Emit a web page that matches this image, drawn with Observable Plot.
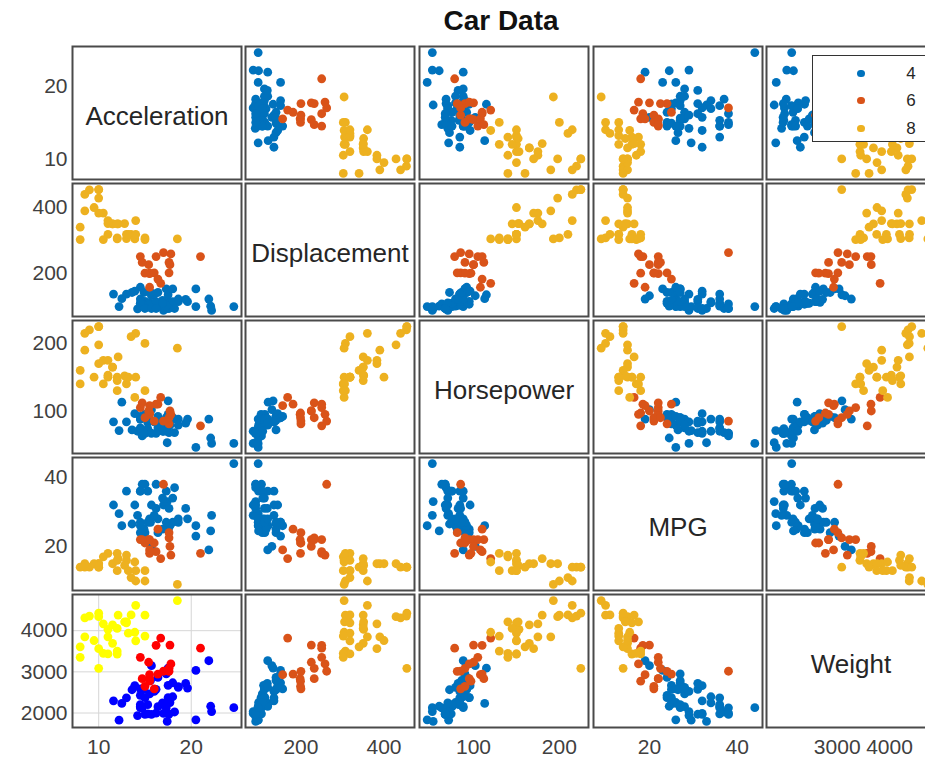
<!DOCTYPE html>
<html>
<head>
<meta charset="utf-8">
<script src="https://cdn.jsdelivr.net/npm/d3@7"></script>
<script src="https://cdn.jsdelivr.net/npm/@observablehq/plot@0.6"></script>
<style>
  html, body { margin: 0; padding: 0; background: #fff; overflow: hidden; }
  #fig { position: relative; width: 925px; height: 757px; overflow: hidden; background: #fff;
         font-family: "Liberation Sans", Arial, Helvetica, sans-serif; }
  #title { position: absolute; left: 351px; width: 300px; top: 7px; text-align: center;
           font-weight: bold; font-size: 28px; line-height: 28px; color: #111; }
  .panel { position: absolute; }
</style>
</head>
<body>
<div id="fig"><div id="title">Car Data</div></div>
<script>
// ---- Data (carsmall: model years 1970, 1976, 1982) ----
const cylinders = [
  8,8,8,8,8,8,8,8,8,8,4,8,8,8,8,8,8,8,8,8,4,6,6,6,4,4,4,4,4,4,6,8,8,8,8,
  4,4,4,4,4,8,8,8,8,6,6,6,6,4,4,4,4,6,6,6,6,4,4,4,4,4,8,4,6,6,8,8,8,8,
  4,4,4,4,4,4,4,4,4,4,4,4,4,4,4,4,4,4,4,6,6,4,6,4,4,4,4,4,4,4,4
];
const mpg = [
  18,15,18,16,17,15,14,14,14,15,NaN,NaN,NaN,NaN,NaN,15,14,NaN,15,14,24,22,18,21,27,26,25,24,25,26,21,10,10,11,9,
  28,25,25,26,27,17.5,16,15.5,14.5,22,22,24,22.5,29,24.5,29,33,20,18,18.5,17.5,29.5,32,28,26.5,20,13,19,19,16.5,16.5,13,13,13,
  28,27,34,31,29,27,24,23,36,37,31,38,36,36,36,34,38,32,38,25,38,26,22,32,36,27,27,44,32,28,31
];
const displacement = [
  307,350,318,304,302,429,454,440,455,390,133,350,351,383,360,383,340,302,400,455,113,198,199,200,97,97,110,107,104,121,199,360,307,318,304,
  107,116,140,98,101,305,318,304,351,225,250,200,232,85,98,90,91,225,250,250,258,97,85,97,140,130,318,120,156,168,350,350,302,318,
  112,112,112,112,135,151,140,151,105,91,91,105,98,120,107,108,91,91,91,181,262,156,232,144,135,151,140,97,135,120,119
];
const horsepower = [
  130,165,150,150,140,198,220,215,225,190,115,165,153,175,175,170,160,140,150,225,95,95,97,85,88,46,87,90,95,113,90,215,200,210,193,
  86,81,92,79,83,140,150,120,152,100,105,81,90,52,60,70,53,100,78,110,95,71,70,75,72,102,150,88,108,120,180,145,130,150,
  88,88,88,85,84,90,92,NaN,74,68,68,63,70,88,75,70,67,67,67,110,85,92,112,96,84,90,86,52,84,79,82
];
const weight = [
  3504,3693,3436,3433,3449,4341,4354,4312,4425,3850,3090,4142,4034,4166,3850,3563,3609,3353,3761,3086,2372,2833,2774,2587,2130,1835,2672,2430,2375,2234,2648,4615,4376,4382,4732,
  2464,2220,2572,2255,2202,4215,4190,3962,4215,3233,3353,3012,3085,2035,2164,1937,1795,3651,3574,3645,3193,1825,1990,2155,2565,3150,3940,3270,2930,3820,4380,4055,3870,3755,
  2605,2640,2395,2575,2525,2735,2865,3035,1980,2025,1970,2125,2125,2160,2205,2245,1965,1965,1995,2945,3015,2585,2835,2665,2370,2950,2790,2130,2295,2625,2720
];
const acceleration = [
  12,11.5,11,12,10.5,10,9,8.5,10,8.5,17.5,11.5,11,10.5,11,10,8,8,9.5,10,15,15.5,15.5,16,14.5,20.5,17.5,14.5,17.5,12.5,15,14,15,13.5,18.5,
  15.5,16.9,14.9,17.7,15.3,13,13,13.9,12.8,15.4,14.5,17.6,17.6,22.2,22.1,14.2,17.4,17.7,21,16.2,17.8,12.2,17,16.4,13.6,15.7,13.2,21.9,15.5,16.7,12.1,12,15,14,
  19.6,18.6,18,16.2,16,18,16.4,20.5,15.3,18.2,17.6,14.7,17.3,14.5,14.5,16.9,15,15.7,16.2,16.4,17,14.5,14.7,13.9,13,17.3,15.6,24.6,11.6,18.6,19.4
];

const variableNames = ["Acceleration", "Displacement", "Horsepower", "MPG", "Weight"];
const groupValues = [4, 6, 8];
const groupLabels = ["4", "6", "8"];
const groupColors = ["#0072BD", "#D95319", "#EDB120"];
const cornerColors = ["#0000FF", "#FF0000", "#FFFF00"];
const yTickValues = [[10, 20], [200, 400], [100, 200], [20, 40], [2000, 3000, 4000]];
const xTickValues = [[10, 20], [200, 400], [100, 200], [20, 40], [3000, 4000]];

// ---- Build table ----
const columns = {Acceleration: acceleration, Displacement: displacement, Horsepower: horsepower, MPG: mpg, Weight: weight};
const cars = d3.sort(
  cylinders.map((c, i) => {
    const row = {Cylinders: c};
    for (const v of variableNames) row[v] = Number.isFinite(columns[v][i]) ? columns[v][i] : null;
    return row;
  }),
  d => d.Cylinders
);
function paddedDomain(values) {
  const [a, b] = d3.extent(values.filter(Number.isFinite));
  const r = b - a;
  return [a - 0.05 * r, b + 0.05 * r];
}
const domains = variableNames.map(v => paddedDomain(columns[v]));
const plainFormat = d => String(d);

// ---- Layout ----
const fig = document.getElementById("fig");
const left0 = 71.7, colPitch = 173.6, panelW = 169;
const top0 = 45.5, rowPitch = 137.1, panelH = 133;
const fontFamily = "'Liberation Sans', Arial, Helvetica, sans-serif";

for (let i = 0; i < 5; i++) {
  for (let j = 0; j < 5; j++) {
    const marks = [];
    const corner = (i === 4 && j === 0);
    if (corner) {
      marks.push(Plot.gridX({ticks: xTickValues[0], stroke: "#d6d6d6", strokeOpacity: 1, strokeWidth: 1}));
      marks.push(Plot.gridY({ticks: yTickValues[4], stroke: "#d6d6d6", strokeOpacity: 1, strokeWidth: 1}));
    }
    if (i !== j) {
      marks.push(Plot.dot(cars, {x: variableNames[j], y: variableNames[i], fill: "Cylinders", r: 4.4, stroke: null}));
    } else {
      marks.push(Plot.text([variableNames[i]], {frameAnchor: "middle", text: d => d, fontSize: 26, fill: "#262626", dy: 4}));
    }
    if (j === 0) {
      marks.push(Plot.axisY({ticks: yTickValues[i], tickFormat: plainFormat, tickSize: 0, tickPadding: 5, fontSize: 21, label: null}));
    }
    if (i === 4) {
      marks.push(Plot.axisX({ticks: xTickValues[j], tickFormat: plainFormat, tickSize: 0, tickPadding: 12, fontSize: 21, label: null}));
    }
    marks.push(Plot.frame({stroke: "#4a4a4a", strokeWidth: 2}));

    const svg = Plot.plot({
      width: panelW,
      height: panelH,
      margin: 0,
      style: {background: "transparent", overflow: "visible", color: "#404040", fontFamily},
      x: {domain: domains[j], axis: null},
      y: {domain: domains[i], axis: null},
      color: {type: "ordinal", domain: groupValues, range: corner ? cornerColors : groupColors},
      marks
    });
    svg.classList.add("panel");
    svg.style.position = "absolute";
    svg.style.left = (left0 + j * colPitch) + "px";
    svg.style.top = (top0 + i * rowPitch) + "px";
    svg.style.maxWidth = "none";
    fig.appendChild(svg);
  }
}

// ---- Legend (top-right panel) ----
const legend = document.createElement("div");
Object.assign(legend.style, {
  position: "absolute", left: "812.3px", top: "55px", width: "125px", height: "86.7px",
  border: "1.2px solid #333", background: "#fff", boxSizing: "border-box"
});
groupLabels.forEach((g, k) => {
  const cy = 17.3 + k * 27.5;
  const dot = document.createElement("div");
  Object.assign(dot.style, {
    position: "absolute", left: (860 - 812.3 - 3.6) + "px", top: (cy - 3.6) + "px",
    width: "7.2px", height: "7.2px", borderRadius: "50%", background: groupColors[k]
  });
  const lab = document.createElement("div");
  lab.textContent = g;
  Object.assign(lab.style, {
    position: "absolute", right: (125 - (916.7 - 812.3)) + "px", top: (cy - 9.5) + "px",
    fontSize: "17px", lineHeight: "19px", color: "#262626"
  });
  legend.appendChild(dot);
  legend.appendChild(lab);
});
fig.appendChild(legend);
</script>
</body>
</html>
